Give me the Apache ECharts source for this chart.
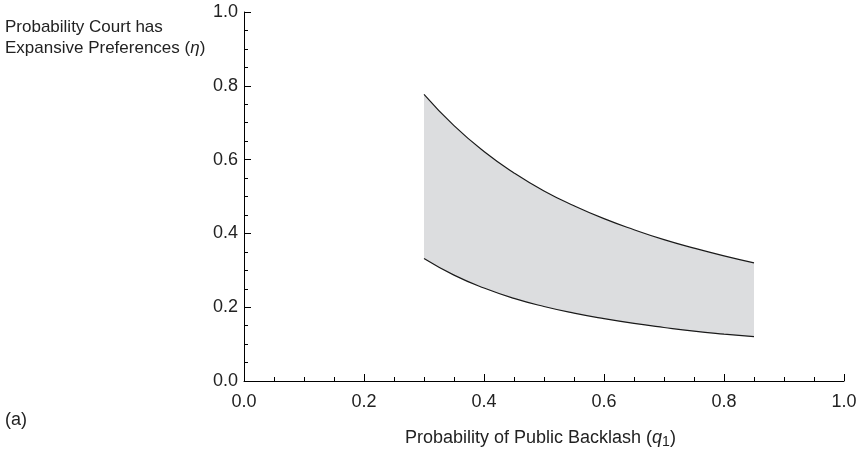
<!DOCTYPE html>
<html>
<head>
<meta charset="utf-8">
<script src="https://cdn.jsdelivr.net/npm/echarts@6/dist/echarts.min.js"></script>
<style>
  html, body { margin: 0; padding: 0; background: #fff; }
  #chart { width: 861px; height: 454px; }
</style>
</head>
<body>
<div id="chart"></div>
<script>
// values
const q1 = [0.30, 0.35, 0.40, 0.45, 0.50, 0.55, 0.60, 0.65, 0.70, 0.75, 0.80, 0.85];
const upperEta = [0.777, 0.692, 0.622, 0.564, 0.515, 0.475, 0.440, 0.410, 0.383, 0.360, 0.339, 0.320];
const lowerEta = [0.332, 0.287, 0.252, 0.224, 0.202, 0.184, 0.169, 0.156, 0.145, 0.135, 0.127, 0.120];
const axisTicks = [0, 0.2, 0.4, 0.6, 0.8, 1.0];

const chart = echarts.init(document.getElementById('chart'));

const upperData = q1.map((x, i) => [x, upperEta[i]]);
const lowerData = q1.map((x, i) => [x, lowerEta[i]]);

const font = 'Liberation Sans, Arial, sans-serif';

function axisCommon() {
  return {
    type: 'value',
    min: axisTicks[0],
    max: axisTicks[axisTicks.length - 1],
    interval: 0.2,
    z: 10,
    axisLine: { show: true, onZero: false, lineStyle: { color: '#000', width: 1 } },
    axisTick: { show: true, inside: true, length: 7, lineStyle: { color: '#000' } },
    minorTick: { show: true, splitNumber: 4, length: 4, lineStyle: { color: '#000' } },
    splitLine: { show: false },
    axisLabel: {
      color: '#222',
      fontSize: 18,
      fontFamily: font,
      formatter: v => v.toFixed(1)
    }
  };
}

const xAxis = axisCommon();
xAxis.axisLabel.margin = 12;
const yAxis = axisCommon();
yAxis.axisLabel.margin = 6;

chart.setOption({
  animation: false,
  // plot width 600 so the band edges fall on whole pixels
  grid: { left: 244, right: 17, top: 12, bottom: 73, containLabel: false },
  xAxis: xAxis,
  yAxis: yAxis,
  series: [
    {
      // grey band: fill under the upper curve...
      type: 'line',
      data: upperData,
      smooth: true,
      showSymbol: false,
      z: 1,
      lineStyle: { color: '#1a1a1a', width: 1.2 },
      areaStyle: { color: '#dcdddf', opacity: 1, origin: 'start' }
    },
    {
      // ...then white under the lower curve
      type: 'line',
      data: lowerData,
      smooth: true,
      showSymbol: false,
      z: 2,
      lineStyle: { color: '#1a1a1a', width: 1.2 },
      areaStyle: { color: '#ffffff', opacity: 1, origin: 'start' }
    }
  ],
  graphic: [
    {
      type: 'text', left: 5, top: 17,
      style: {
        text: 'Probability Court has\nExpansive Preferences ({i|η})',
        fill: '#222', font: '17px ' + font, lineHeight: 21,
        rich: { i: { fontStyle: 'italic', fontSize: 17, fontFamily: font, lineHeight: 21 } }
      }
    },
    {
      type: 'text', left: 5, top: 411,
      style: { text: '(a)', fill: '#222', font: '18px ' + font }
    },
    {
      type: 'text', left: 405, top: 429,
      style: {
        text: 'Probability of Public Backlash ({i|q}{s|1})',
        fill: '#222', font: '18px ' + font,
        rich: {
          i: { fontStyle: 'italic', fontSize: 18, fontFamily: font },
          s: { fontSize: 14, fontFamily: font, padding: [9, 0, 0, 0] }
        }
      }
    }
  ]
});
</script>
</body>
</html>
